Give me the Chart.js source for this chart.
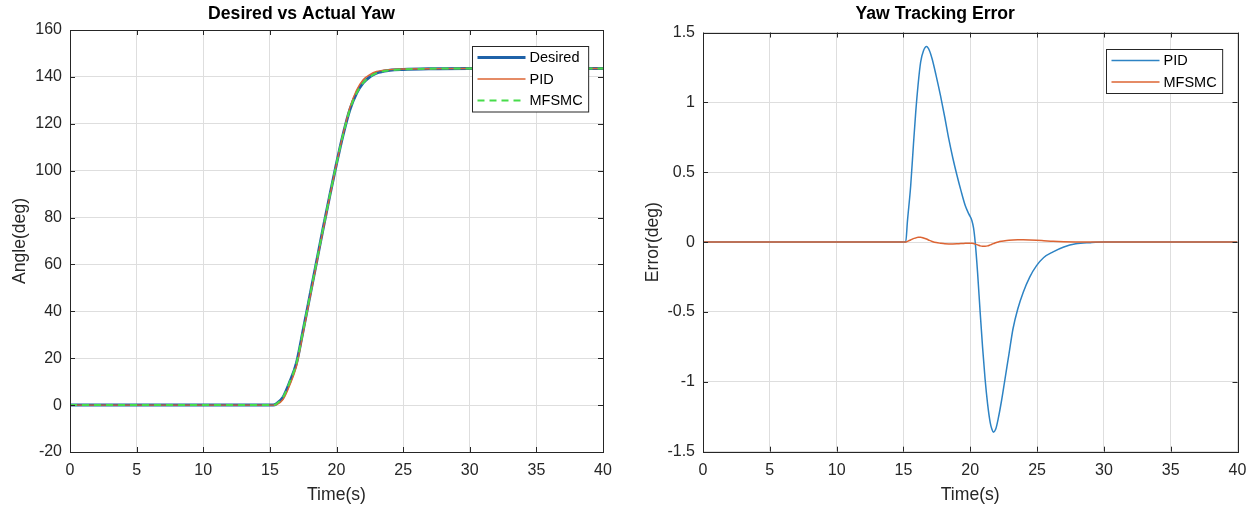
<!DOCTYPE html>
<html>
<head>
<meta charset="utf-8">
<script src="https://cdn.jsdelivr.net/npm/chart.js@4.4.1/dist/chart.umd.min.js"></script>
<style>
  html, body { margin: 0; padding: 0; background: #fff; }
  body { width: 1258px; height: 511px; position: relative; overflow: hidden; }
  .panel { position: absolute; top: 0; height: 511px; }
  #leftPanel { left: 0; width: 625px; }
  #rightPanel { left: 633px; width: 625px; }
</style>
</head>
<body>
<div class="panel" id="leftPanel"><canvas id="yawChart"></canvas></div>
<div class="panel" id="rightPanel"><canvas id="errChart"></canvas></div>
<script>
// yaw angle response (deg) vs time (s)
const yawTime    = [0, 15, 15.25, 15.5, 16, 16.5, 17, 17.5, 18, 18.5, 19, 19.5, 20, 20.5, 21, 21.5, 22, 22.5, 23, 24, 25, 27, 30, 35, 40];
const yawDesired = [0, 0, 0, 0.6, 3.5, 10, 18, 32, 46.5, 61, 75.5, 89.5, 103, 115.5, 126, 133, 137.5, 140, 141.6, 142.8, 143.2, 143.5, 143.6, 143.6, 143.6];
const yawPID     = [0, 0, 0, 0.2, 2.5, 8.6, 16.7, 30.9, 45.6, 60.3, 75, 89.2, 102.8, 115.7, 126.9, 134.3, 138.8, 141, 142.3, 143.1, 143.4, 143.5, 143.6, 143.6, 143.6];
const yawMFSMC   = [0, 0, 0, 0.6, 3.5, 10, 18, 32, 46.5, 61, 75.5, 89.5, 103, 115.5, 126, 133, 137.5, 140, 141.6, 142.8, 143.2, 143.5, 143.6, 143.6, 143.6];

// tracking error (deg) vs time (s)
const errTime  = [0, 15, 15.17, 15.3, 15.54, 15.75, 15.92, 16.1, 16.29, 16.5, 16.73, 16.95, 17.15, 17.45, 17.77, 18.1, 18.39, 18.7, 19.0, 19.3,
                  19.63, 19.9, 20.12, 20.25, 20.37, 20.55, 20.74, 20.92, 21.11, 21.3, 21.49, 21.62, 21.73, 21.9, 22.1, 22.35, 22.6, 22.9, 23.2, 23.55,
                  23.96, 24.45, 24.95, 25.5, 26.2, 27.0, 27.9, 29, 30, 35, 40];
const errPID   = [0, 0, 0, 0.15, 0.40, 0.70, 0.93, 1.13, 1.29, 1.37, 1.40, 1.37, 1.31, 1.19, 1.05, 0.89, 0.74, 0.60, 0.48, 0.37,
                  0.26, 0.20, 0.155, 0.1, 0, -0.22, -0.5, -0.75, -0.98, -1.16, -1.29, -1.34, -1.36, -1.34, -1.26, -1.13, -0.98, -0.80, -0.62, -0.48,
                  -0.36, -0.25, -0.17, -0.11, -0.07, -0.035, -0.012, -0.004, 0, 0, 0];
const errMFSMC = [0, 0, 0, 0.005, 0.015, 0.025, 0.03, 0.035, 0.035, 0.03, 0.022, 0.012, 0.005, -0.003, -0.008, -0.012, -0.013, -0.013, -0.012, -0.01,
                  -0.009, -0.008, -0.008, -0.01, -0.014, -0.02, -0.027, -0.03, -0.03, -0.027, -0.02, -0.015, -0.011, -0.005, 0.001, 0.006, 0.01, 0.013, 0.015, 0.016,
                  0.016, 0.015, 0.013, 0.01, 0.006, 0.003, 0.001, 0, 0, 0, 0];

const timeTicks = { min: 0, max: 40, step: 5 };
const angleTicks = { min: -20, max: 160, step: 20 };
const errorTicks = { min: -1.5, max: 1.5, step: 0.5 };

const FONT = '"Liberation Sans", Arial, Helvetica, sans-serif';
const AXIS_COLOR = '#262626';
Chart.defaults.font.family = FONT;
Chart.defaults.color = AXIS_COLOR;

const toPoints = (xs, ys) => xs.map((x, i) => ({ x, y: ys[i] }));

// matlab-style box: full frame plus inward tick marks on all four sides
const boxFrame = {
  id: 'boxFrame',
  afterDatasetsDraw(chart) {
    const { ctx, chartArea: a, scales: { x, y } } = chart;
    const len = 5;
    ctx.save();
    ctx.strokeStyle = AXIS_COLOR;
    ctx.lineWidth = 1;
    ctx.beginPath();
    x.ticks.forEach(t => {
      const px = Math.round(x.getPixelForValue(t.value)) + 0.5;
      ctx.moveTo(px, a.bottom); ctx.lineTo(px, a.bottom - len);
      ctx.moveTo(px, a.top); ctx.lineTo(px, a.top + len);
    });
    y.ticks.forEach(t => {
      const py = Math.round(y.getPixelForValue(t.value)) + 0.5;
      ctx.moveTo(a.left, py); ctx.lineTo(a.left + len, py);
      ctx.moveTo(a.right, py); ctx.lineTo(a.right - len, py);
    });
    ctx.stroke();
    ctx.strokeRect(Math.round(a.left) + 0.5, Math.round(a.top) + 0.5, Math.round(a.width), Math.round(a.height));
    ctx.restore();
  }
};

// legend box in the upper right corner of the plot area
const boxLegend = {
  id: 'boxLegend',
  afterDraw(chart) {
    const { ctx, chartArea: a } = chart;
    const sets = chart.data.datasets;
    const rowH = 21.5, lineLen = 48;
    ctx.save();
    ctx.font = '14.5px ' + FONT;
    const textW = Math.max(...sets.map(d => ctx.measureText(d.label).width));
    const w = 57 + textW + 6;
    const h = sets.length * rowH + 1;
    const left = Math.round(a.right - 15 - w) + 0.5;
    const top = Math.round(a.top + 16) + 0.5;
    ctx.fillStyle = '#fff';
    ctx.fillRect(left, top, w, h);
    ctx.strokeStyle = AXIS_COLOR;
    ctx.lineWidth = 1;
    ctx.strokeRect(left, top, w, h);
    sets.forEach((d, i) => {
      const cy = top + 11 + i * rowH;
      ctx.beginPath();
      ctx.strokeStyle = d.borderColor;
      ctx.lineWidth = d.borderWidth;
      ctx.setLineDash(d.borderDash || []);
      ctx.moveTo(left + 5, cy);
      ctx.lineTo(left + 5 + lineLen, cy);
      ctx.stroke();
      ctx.setLineDash([]);
      ctx.fillStyle = '#000';
      ctx.textBaseline = 'middle';
      ctx.fillText(d.label, left + 57, cy + 0.5);
    });
    ctx.restore();
  }
};

function axisOptions(range, title, fixed) {
  return {
    type: 'linear',
    min: range.min,
    max: range.max,
    ticks: {
      stepSize: range.step,
      color: AXIS_COLOR,
      font: { size: 16 },
      padding: fixed.tickPad,
      maxRotation: 0,
      autoSkip: false,
      callback: v => String(v)
    },
    grid: { color: '#dedede', drawTicks: false },
    border: { display: false },
    title: {
      display: true,
      text: title,
      color: AXIS_COLOR,
      font: { size: 17.6 },
      padding: fixed.titlePad
    },
    afterFit(scale) {
      if (fixed.width) scale.width = fixed.width;
      if (fixed.height) scale.height = fixed.height;
    }
  };
}

function makeChart(id, title, datasets, yRange, yTitle, layout) {
  return new Chart(document.getElementById(id), {
    type: 'line',
    data: { datasets },
    options: {
      responsive: true,
      maintainAspectRatio: false,
      animation: false,
      layout: { padding: { left: 0, right: layout.padRight, top: 0, bottom: 0 } },
      elements: { point: { radius: 0 }, line: { cubicInterpolationMode: 'monotone' } },
      plugins: {
        legend: { display: false },
        tooltip: { enabled: false },
        title: {
          display: true,
          text: title,
          color: '#000',
          font: { size: 17.6, weight: 'bold' },
          padding: { top: 4, bottom: layout.titleBottom }
        }
      },
      scales: {
        x: axisOptions(timeTicks, 'Time(s)', { height: layout.xHeight, tickPad: 9, titlePad: { top: 0, bottom: 5.5 } }),
        y: axisOptions(yRange, yTitle, { width: 70, tickPad: 8, titlePad: { top: 9.5, bottom: 0 } })
      }
    },
    plugins: [boxFrame, boxLegend]
  });
}

makeChart('yawChart', 'Desired vs Actual Yaw', [
  { label: 'Desired', data: toPoints(yawTime, yawDesired), borderColor: '#1f62a8', borderWidth: 3, order: 3 },
  { label: 'PID', data: toPoints(yawTime, yawPID), borderColor: '#dc6433', borderWidth: 1.4, order: 2 },
  { label: 'MFSMC', data: toPoints(yawTime, yawMFSMC), borderColor: '#47dc4a', borderWidth: 2, borderDash: [7, 5], order: 1 }
], angleTicks, 'Angle(deg)', { padRight: 22, titleBottom: 4.9, xHeight: 59 });

makeChart('errChart', 'Yaw Tracking Error', [
  { label: 'PID', data: toPoints(errTime, errPID), borderColor: '#2d83c4', borderWidth: 1.5, order: 2 },
  { label: 'MFSMC', data: toPoints(errTime, errMFSMC), borderColor: '#dc6433', borderWidth: 1.5, order: 1 }
], errorTicks, 'Error(deg)', { padRight: 20.5, titleBottom: 7.4, xHeight: 59.3 });
</script>
</body>
</html>
